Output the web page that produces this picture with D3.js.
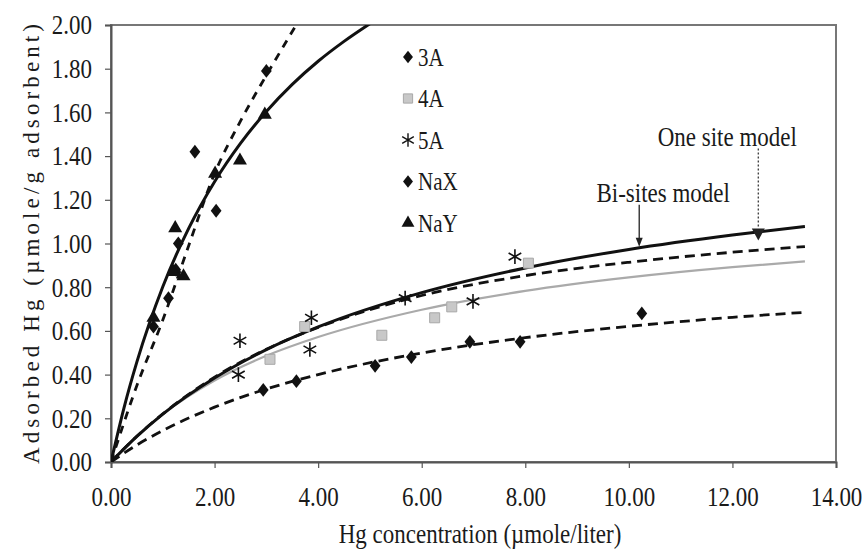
<!DOCTYPE html>
<html>
<head>
<meta charset="utf-8">
<script src="https://cdn.jsdelivr.net/npm/d3@7"></script>
<style>
  body { margin: 0; background: #fff; }
  text { font-family: "Liberation Serif", "Times New Roman", serif; fill: #1a1a1a; }
</style>
</head>
<body>
<svg id="chart" width="863" height="551"></svg>
<script>
// Axis ticks
const xTicks = [0, 2, 4, 6, 8, 10, 12, 14];
const yTicks = [0, 0.2, 0.4, 0.6, 0.8, 1.0, 1.2, 1.4, 1.6, 1.8, 2.0];

// Measured points (x = Hg concentration, y = adsorbed Hg)
const pts3A = [[2.94, 0.33], [3.58, 0.37], [5.10, 0.44], [5.80, 0.48], [6.93, 0.55], [7.90, 0.55], [10.25, 0.68]];
const pts4A = [[3.07, 0.47], [3.74, 0.62], [5.23, 0.58], [6.25, 0.66], [6.58, 0.71], [8.06, 0.91]];
const pts5A = [[2.46, 0.40], [2.49, 0.555], [3.84, 0.515], [3.87, 0.66], [5.68, 0.75], [6.99, 0.735], [7.80, 0.94]];
const ptsNaX = [[0.82, 0.62], [1.11, 0.75], [1.25, 0.88], [1.30, 1.00], [1.62, 1.42], [2.03, 1.15], [3.00, 1.79]];
const ptsNaY = [[0.82, 0.66], [1.20, 0.87], [1.24, 1.07], [1.40, 0.85], [2.01, 1.32], [2.49, 1.38], [2.97, 1.59]];

// Model curves
const lowX = [0, 0.5, 1, 2, 3, 4, 6, 8, 10, 12, 13.4];
const biSites = [0, 0.117, 0.219, 0.384, 0.514, 0.618, 0.775, 0.888, 0.973, 1.039, 1.078];
const oneSite = [0, 0.118, 0.220, 0.388, 0.516, 0.616, 0.762, 0.853, 0.914, 0.960, 0.986];
const fit4A = [0, 0.120, 0.219, 0.373, 0.486, 0.572, 0.697, 0.783, 0.845, 0.892, 0.918];
const fit3A = [0, 0.078, 0.144, 0.251, 0.334, 0.400, 0.499, 0.569, 0.621, 0.662, 0.685];

const nayX = [0, 0.25, 0.5, 1, 1.5, 2, 2.5, 3, 3.5, 4, 4.5, 5];
const fitNaY = [0, 0.247, 0.458, 0.802, 1.069, 1.283, 1.458, 1.604, 1.728, 1.834, 1.925, 2.006];
const naxX = [0, 0.5, 1, 1.5, 2, 2.5, 3, 3.5, 3.6];
const fitNaX = [0, 0.35, 0.65, 0.99, 1.32, 1.56, 1.77, 1.97, 2.01];

const legendNames = ['3A', '4A', '5A', 'NaX', 'NaY'];
const notes = [
  { label: 'Bi-sites model', at: [10.2, 0.985] },
  { label: 'One site model', at: [12.5, 1.05] }
];

const svg = d3.select('#chart');
const padL = 111, padR = 836, padT = 25, padB = 462;
const SY = 1.2; // the scan is stretched vertically

const x = d3.scaleLinear().domain([0, 14]).range([padL, padR]);
const y = d3.scaleLinear().domain([0, 2]).range([padB, padT]);

svg.append('defs').append('clipPath').attr('id', 'plot')
  .append('rect').attr('x', padL).attr('y', padT).attr('width', padR - padL).attr('height', padB - padT);

// Plot frame (top/right)
svg.append('rect')
  .attr('x', padL).attr('y', padT).attr('width', padR - padL).attr('height', padB - padT)
  .attr('fill', 'none').attr('stroke', '#777').attr('stroke-width', 2);

// Axes
const xAxis = svg.append('g')
  .attr('transform', `translate(0,${padB})`)
  .call(d3.axisBottom(x).tickValues(xTicks).tickSize(6).tickPadding(14).tickFormat(d3.format('.2f')));
const yAxis = svg.append('g')
  .attr('transform', `translate(${padL},0)`)
  .call(d3.axisLeft(y).tickValues(yTicks).tickSize(6).tickPadding(13).tickFormat(d3.format('.2f')));

[xAxis, yAxis].forEach(ax => {
  ax.select('.domain').attr('stroke', '#555').attr('stroke-width', 2);
  ax.selectAll('.tick line').attr('stroke', '#555').attr('stroke-width', 1.2);
  ax.selectAll('.tick text')
    .attr('font-size', 23)
    .attr('font-family', '"Liberation Serif", serif')
    .attr('fill', '#1a1a1a')
    .attr('transform', `scale(1,${SY})`);
});

// Axis titles
svg.append('g')
  .attr('transform', `translate(480,533) scale(1,${SY})`)
  .append('text')
  .attr('text-anchor', 'middle').attr('dy', '0.35em')
  .attr('font-size', 23)
  .text('Hg concentration (µmole/liter)');

svg.append('text')
  .attr('transform', 'translate(31,244) rotate(-90)')
  .attr('text-anchor', 'middle').attr('dy', '0.35em')
  .attr('font-size', 23)
  .attr('textLength', 440).attr('lengthAdjust', 'spacing')
  .text('Adsorbed Hg (µmole/g adsorbent)');

// Curves
const plot = svg.append('g').attr('clip-path', 'url(#plot)');
const line = d3.line().x(d => x(d[0])).y(d => y(d[1])).curve(d3.curveMonotoneX);
const zipped = (xs, ys) => xs.map((v, i) => [v, ys[i]]);

const curves = [
  { data: zipped(lowX, fit3A), stroke: '#111', width: 2.8, dash: '10,6' },
  { data: zipped(lowX, fit4A), stroke: '#aaa', width: 2.2, dash: null },
  { data: zipped(lowX, oneSite), stroke: '#111', width: 2.8, dash: '10,6' },
  { data: zipped(lowX, biSites), stroke: '#111', width: 3, dash: null },
  { data: zipped(naxX, fitNaX), stroke: '#111', width: 2.8, dash: '8,7' },
  { data: zipped(nayX, fitNaY), stroke: '#111', width: 3, dash: null }
];

plot.selectAll('path.fit')
  .data(curves)
  .join('path')
  .attr('class', 'fit')
  .attr('d', d => line(d.data))
  .attr('fill', 'none')
  .attr('stroke', d => d.stroke)
  .attr('stroke-width', d => d.width)
  .attr('stroke-dasharray', d => d.dash);

// Markers (diamonds widened to match the scan)
const markers = [
  { name: '3A', data: pts3A, type: d3.symbolDiamond, size: 55, sx: 1.35, fill: '#111', stroke: 'none' },
  { name: '4A', data: pts4A, type: d3.symbolSquare, size: 100, sx: 1, fill: '#c8c8c8', stroke: '#a8a8a8' },
  { name: '5A', data: pts5A, type: d3.symbolAsterisk, size: 150, sx: 1, fill: 'none', stroke: '#111' },
  { name: 'NaX', data: ptsNaX, type: d3.symbolDiamond, size: 55, sx: 1.35, fill: '#111', stroke: 'none' },
  { name: 'NaY', data: ptsNaY, type: d3.symbolTriangle, size: 85, sx: 1, fill: '#111', stroke: 'none' }
];

markers.forEach(m => {
  svg.append('g').selectAll('path')
    .data(m.data)
    .join('path')
    .attr('transform', d => `translate(${x(d[0])},${y(d[1])}) scale(${m.sx},1)`)
    .attr('d', d3.symbol().type(m.type).size(m.size))
    .attr('fill', m.fill)
    .attr('stroke', m.stroke)
    .attr('stroke-width', m.type === d3.symbolAsterisk ? 1.6 : 1);
});

// Legend
const legend = svg.append('g').attr('transform', 'translate(408,57)');
legendNames.forEach((name, i) => {
  const m = markers.find(k => k.name === name);
  const row = legend.append('g').attr('transform', `translate(0,${i * 41.5})`);
  row.append('path')
    .attr('transform', `scale(${m.sx},1)`)
    .attr('d', d3.symbol().type(m.type).size(m.size * 0.85))
    .attr('fill', m.fill)
    .attr('stroke', m.stroke)
    .attr('stroke-width', m.type === d3.symbolAsterisk ? 1.4 : 1);
  row.append('g').attr('transform', `translate(10,0) scale(1,${SY})`)
    .append('text')
    .attr('dy', '0.35em')
    .attr('font-size', 21)
    .text(name);
});

// Annotations
const bi = notes[0], one = notes[1];
const biX = x(bi.at[0]), biY = y(bi.at[1]);
svg.append('line')
  .attr('x1', biX).attr('x2', biX).attr('y1', biY - 42).attr('y2', biY - 6)
  .attr('stroke', '#222').attr('stroke-width', 1.3);
svg.append('path')
  .attr('d', `M${biX - 3.5},${biY - 9}L${biX + 3.5},${biY - 9}L${biX},${biY}Z`)
  .attr('fill', '#222');
svg.append('g').attr('transform', `translate(${biX + 24},${biY - 54}) scale(1,${SY})`)
  .append('text').attr('text-anchor', 'middle').attr('dy', '0.35em')
  .attr('font-size', 23).text(bi.label);

const oneX = x(one.at[0]), oneY = y(one.at[1]);
svg.append('line')
  .attr('x1', oneX).attr('x2', oneX).attr('y1', oneY - 84).attr('y2', oneY - 6)
  .attr('stroke', '#444').attr('stroke-width', 1.4).attr('stroke-dasharray', '2,2');
svg.append('path')
  .attr('d', `M${oneX - 6.5},${oneY - 4}L${oneX + 6.5},${oneY - 4}L${oneX},${oneY + 8}Z`)
  .attr('fill', '#222');
svg.append('g').attr('transform', `translate(${oneX - 31},${oneY - 96}) scale(1,${SY})`)
  .append('text').attr('text-anchor', 'middle').attr('dy', '0.35em')
  .attr('font-size', 23).text(one.label);
</script>
</body>
</html>
